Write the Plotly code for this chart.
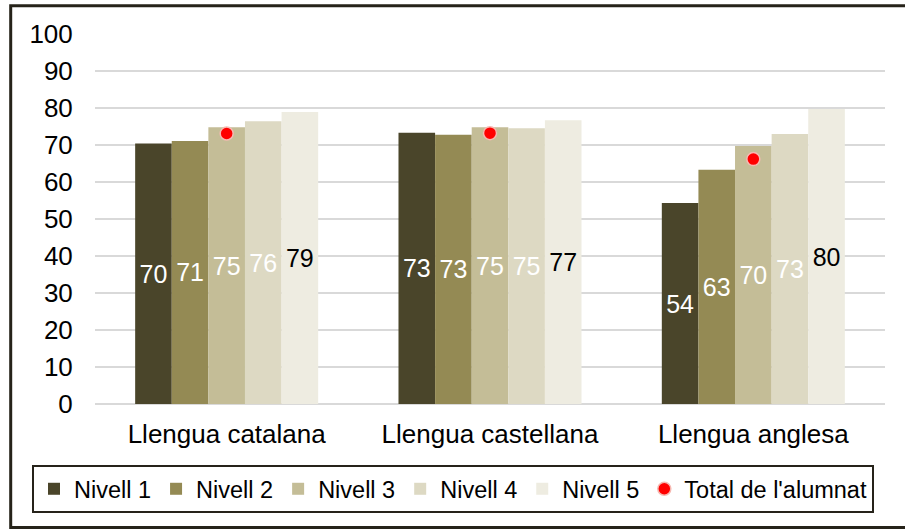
import plotly.graph_objects as go

categories = ["Llengua catalana", "Llengua castellana", "Llengua anglesa"]
series_names = ["Nivell 1", "Nivell 2", "Nivell 3", "Nivell 4", "Nivell 5"]
nivell_1 = [70.4, 73.3, 54.3]
nivell_2 = [71.1, 72.8, 63.3]
nivell_3 = [74.8, 74.8, 69.7]
nivell_4 = [76.4, 74.5, 73.0]
nivell_5 = [78.9, 76.7, 79.7]
total_alumnat = [73.1, 73.2, 66.2]
total_name = "Total de l'alumnat"
y_ticks = [0, 10, 20, 30, 40, 50, 60, 70, 80, 90, 100]

series_values = [nivell_1, nivell_2, nivell_3, nivell_4, nivell_5]
colors = ["#4a452a", "#948a54", "#c4bd97", "#ddd9c3", "#eeece1"]
text_colors = ["white", "white", "white", "white", "black"]

FONT = "Liberation Sans, Arial, sans-serif"

fig = go.Figure()
for name, vals, c, tc in zip(series_names, series_values, colors, text_colors):
    fig.add_trace(go.Bar(
        x=categories, y=vals, name=name,
        marker=dict(color=c, line=dict(width=0)),
        texttemplate="%{y:.0f}", textposition="inside",
        insidetextanchor="middle", constraintext="none",
        textfont=dict(color=tc, size=25, family=FONT),
        cliponaxis=False,
    ))

fig.add_trace(go.Scatter(
    x=categories, y=total_alumnat, name=total_name, mode="markers",
    marker=dict(color="#ff0000", size=13, line=dict(color="#f6b9b2", width=1.5)),
))

W, H = 905, 529
ml, mr, mt, mb = 95, 20, 34, 125
pw = W - ml - mr
ph = H - mt - mb

def px(x):
    return (x - ml) / pw

def py(y):
    return (H - mb - y) / ph

fig.update_layout(
    width=W, height=H,
    margin=dict(l=ml, r=mr, t=mt, b=mb),
    paper_bgcolor="white", plot_bgcolor="white",
    font=dict(family=FONT, size=26, color="black"),
    barmode="group", bargap=0.305, bargroupgap=0,
    showlegend=True,
    legend=dict(
        orientation="h", x=px(32), xanchor="left", y=py(465), yanchor="top",
        bordercolor="#26231a", borderwidth=2, bgcolor="white",
        font=dict(size=23.5, family=FONT), itemwidth=30,
        tracegroupgap=0, traceorder="normal",
    ),
    shapes=[dict(
        type="rect", xref="paper", yref="paper",
        x0=px(10.7), x1=px(940), y0=py(527.5), y1=py(5.7),
        line=dict(color="#26231a", width=3), layer="below",
    )],
)

fig.update_xaxes(
    showgrid=False, showline=False, ticks="outside", ticklen=7,
    tickcolor="rgba(0,0,0,0)", tickfont=dict(size=26),
)
fig.update_yaxes(
    range=[0, 100], tickvals=y_ticks, showgrid=True, gridcolor="#d9d9d9",
    gridwidth=2, zeroline=True, zerolinecolor="#d9d9d9", zerolinewidth=2,
    showline=False, ticks="outside", ticklen=16, tickcolor="rgba(0,0,0,0)",
    tickfont=dict(size=26),
)

fig.write_html(
    "out.html",
    config={"displayModeBar": False},
    post_script="document.body.style.margin='0';document.body.style.overflow='hidden';",
)
